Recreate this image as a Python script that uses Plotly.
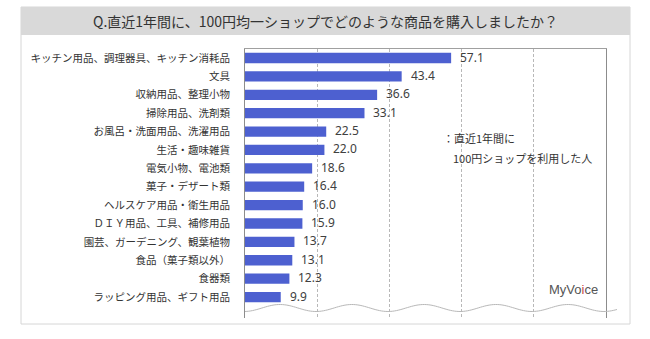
import numpy as np
import plotly.graph_objects as go

categories = [
    "キッチン用品、調理器具、キッチン消耗品",
    "文具",
    "収納用品、整理小物",
    "掃除用品、洗剤類",
    "お風呂・洗面用品、洗濯用品",
    "生活・趣味雑貨",
    "電気小物、電池類",
    "菓子・デザート類",
    "ヘルスケア用品・衛生用品",
    "ＤＩＹ用品、工具、補修用品",
    "園芸、ガーデニング、観葉植物",
    "食品（菓子類以外）",
    "食器類",
    "ラッピング用品、ギフト用品",
]
values = [57.1, 43.4, 36.6, 33.1, 22.5, 22.0, 18.6, 16.4, 16.0, 15.9, 13.7, 13.1, 12.3, 9.9]
title_text = "Q.直近1年間に、100円均一ショップでどのような商品を購入しましたか？"
legend_lines = ["：直近1年間に", "100円ショップを利用した人"]

W, H = 650, 339
L, R, T, B = 245, 606, 49, 318  # plot area in pixels


def px(x):
    return (x - L) / (R - L)


def py(y):
    return (B - y) / (B - T)


JP = "Noto Sans CJK JP"

fig = go.Figure()
fig.add_trace(go.Bar(
    x=values, y=categories, orientation="h",
    marker=dict(color="#4d60d0", line=dict(width=0)),
    width=0.56, hoverinfo="x+y",
))

annotations = []
for c, v in zip(categories, values):
    annotations.append(dict(
        x=v, y=c, xref="x", yref="y", text=f"{v:.1f}", showarrow=False,
        xanchor="left", yanchor="middle", xshift=7, yshift=1,
        font=dict(family="Noto Sans", size=12, color="#404040"),
    ))

annotations.append(dict(
    x=px(325), y=py(21), xref="paper", yref="paper", text=title_text, showarrow=False,
    xanchor="center", yanchor="middle", font=dict(family=JP, size=14, color="#333333"),
))
annotations.append(dict(
    x=px(441), y=py(138), xref="paper", yref="paper", text=legend_lines[0], showarrow=False,
    xanchor="left", yanchor="middle", font=dict(family=JP, size=11, color="#333333"),
))
annotations.append(dict(
    x=px(451), y=py(158), xref="paper", yref="paper", text=legend_lines[1], showarrow=False,
    xanchor="left", yanchor="middle", font=dict(family=JP, size=11, color="#333333"),
))
annotations.append(dict(
    x=px(573), y=py(289), xref="paper", yref="paper",
    text="MyVo<span style='color:#c84848'>i</span>ce", showarrow=False,
    xanchor="center", yanchor="middle",
    font=dict(family="Liberation Sans", size=13, color="#555555"),
))

# decorative wavy break line
wx = np.linspace(245, 617, 200)
wy = 308 - 3.5 * np.cos((wx - 280) / 72 * 2 * np.pi)
path = "M " + " L ".join(f"{px(a):.5f},{py(b):.5f}" for a, b in zip(wx, wy))

shapes = [
    # outer frame
    dict(type="rect", xref="paper", yref="paper", x0=px(21), x1=px(630), y0=py(7), y1=py(324),
         line=dict(color="#d6d6d6", width=1), fillcolor="rgba(0,0,0,0)", layer="below"),
    # header band
    dict(type="rect", xref="paper", yref="paper", x0=px(21), x1=px(630), y0=py(7), y1=py(35),
         line=dict(width=0), fillcolor="#d9d9d9", layer="below"),
    dict(type="path", xref="paper", yref="paper", path=path,
         line=dict(color="#b8b8b8", width=1)),
]

fig.update_layout(
    width=W, height=H,
    margin=dict(l=L, r=W - R, t=T, b=H - B, pad=0),
    paper_bgcolor="white", plot_bgcolor="white",
    showlegend=False,
    annotations=annotations, shapes=shapes,
    xaxis=dict(range=[0, 100], showticklabels=False, ticks="", side="top",
               showgrid=True, gridcolor="#b8b8b8", griddash="3px,2px", gridwidth=1,
               dtick=20, zeroline=False, showline=True, linecolor="#a0a0a0", linewidth=1,
               fixedrange=True),
    yaxis=dict(categoryorder="array", categoryarray=categories,
               range=[13.6 + 0.54, -0.49], showgrid=False, zeroline=False,
               showline=True, mirror=True, linecolor="#8c8c8c", linewidth=1,
               ticks="", ticklabelstandoff=12,
               tickfont=dict(family=JP, size=10.5, color="#333333"), fixedrange=True),
    font=dict(family=JP),
)

fig.write_html("out.html")
